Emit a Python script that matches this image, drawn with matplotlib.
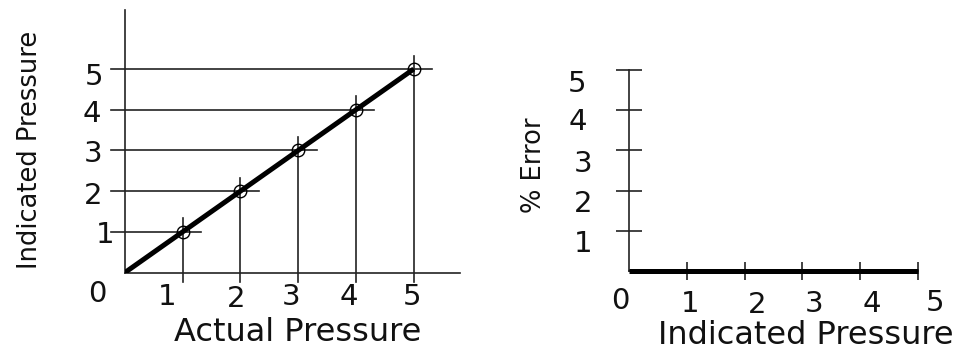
import matplotlib
matplotlib.use("Agg")
import matplotlib.pyplot as plt

# ---- data ----
actual_pressure = [1, 2, 3, 4, 5]
indicated_pressure = [1, 2, 3, 4, 5]
ideal_x = [0, 5]
ideal_y = [0, 5]
err_indicated = [0, 1, 2, 3, 4, 5]
pct_error = [0, 0, 0, 0, 0, 0]
left_tick_labels = ["1", "2", "3", "4", "5"]
right_tick_labels = ["1", "2", "3", "4", "5"]
origin_label = "0"

plt.rcParams['font.family'] = ['DejaVu Sans']

W, H = 978, 351
DPI = 100
fig = plt.figure(figsize=(W / DPI, H / DPI), dpi=DPI)

def px_rect(x0, y_bottom, x1, y_top):
    return [x0 / W, (H - y_bottom) / H, (x1 - x0) / W, (y_bottom - y_top) / H]

DIGIT_PT = 21
CAP = 0.729 * DIGIT_PT * DPI / 72.0

def put(ax, x, y, s, dx, dy):
    # dx, dy: pixel offsets of the visual centre (dy positive = down)
    ax.annotate(s, xy=(x, y), xytext=(dx, -dy - CAP / 2), textcoords='offset pixels',
                ha='center', va='baseline', fontsize=DIGIT_PT, color='#111111',
                annotation_clip=False)

# ---------------- left panel ----------------
ax1 = fig.add_axes(px_rect(125, 272.5, 460, 10))
ax1.set_xlim(0, 335 / 57.75)
ax1.set_ylim(0, 262.5 / 40.7)
for s in ['top', 'right']:
    ax1.spines[s].set_visible(False)
for s in ['left', 'bottom']:
    ax1.spines[s].set_linewidth(1.2)
    ax1.spines[s].set_color('#222222')
ax1.set_xticks([])
ax1.set_yticks([])

for xv, yv in zip(actual_pressure, indicated_pressure):
    ax1.plot([-0.25, xv + 0.32], [yv, yv], color='#222222', lw=1.2, clip_on=False, zorder=2)
    ax1.plot([xv, xv], [-0.23, yv + 0.33], color='#222222', lw=1.2, clip_on=False, zorder=2)

ax1.plot(ideal_x, ideal_y, color='black', lw=3.6, solid_capstyle='butt', zorder=3)
ax1.plot(actual_pressure, indicated_pressure, linestyle='none', marker='o', markersize=9,
         markerfacecolor='none', markeredgecolor='black', markeredgewidth=1.0, zorder=4,
         clip_on=False)

lx_off = [(-15.7, 21.5), (-4, 24), (-7, 21.5), (-7, 21.5), (-2, 21.5)]
for t, lab, (dx, dy) in zip(actual_pressure, left_tick_labels, lx_off):
    put(ax1, t, 0, lab, dx, dy)
ly_off = [(-20, 0.7), (-32, 2), (-31.5, 1), (-33, 2), (-31, 5)]
for t, lab, (dx, dy) in zip(indicated_pressure, left_tick_labels, ly_off):
    put(ax1, 0, t, lab, dx, dy)
put(ax1, 0, 0, origin_label, -28, 19)

ax1.set_xlabel("Actual Pressure", fontsize=23, color='#111111')
ax1.xaxis.set_label_coords(298 / W, 1 - 341 / H, transform=fig.transFigure)
ax1.xaxis.label.set_va('baseline')
ax1.set_ylabel("Indicated Pressure", fontsize=18.5, color='#111111')
ax1.yaxis.set_label_coords(30 / W, 1 - 150 / H, transform=fig.transFigure)
ax1.yaxis.label.set_va('center')

# ---------------- right panel ----------------
ax2 = fig.add_axes(px_rect(629.3, 271, 917.7, 70))
ax2.set_xlim(0, 5)
ax2.set_ylim(0, 5)
for s in ['top', 'right']:
    ax2.spines[s].set_visible(False)
for s in ['left', 'bottom']:
    ax2.spines[s].set_linewidth(1.2)
    ax2.spines[s].set_color('#222222')
ax2.set_xticks(err_indicated[1:])
ax2.set_yticks(err_indicated[1:])
ax2.tick_params(axis='x', direction='inout', length=13.5, width=1.2, color='#222222',
                labelbottom=False)
ax2.tick_params(axis='y', direction='inout', length=19, width=1.2, color='#222222',
                labelleft=False)
for tl in ax2.xaxis.get_ticklines() + ax2.yaxis.get_ticklines():
    tl.set_clip_on(False)

ax2.plot(err_indicated, pct_error, color='black', lw=3.6, solid_capstyle='butt',
         clip_on=False, zorder=3)

rx_off = [(3, 30), (12.3, 31), (11.6, 30), (12, 30), (17.3, 29)]
for t, lab, (dx, dy) in zip(err_indicated[1:], right_tick_labels, rx_off):
    put(ax2, t, 0, lab, dx, dy)
put(ax2, 0, 0, origin_label, -9, 27)
ry_off = [(-46, 11), (-46, 11), (-46, 11.3), (-51, 9.3), (-52, 11)]
for t, lab, (dx, dy) in zip(err_indicated[1:], right_tick_labels, ry_off):
    put(ax2, 0, t, lab, dx, dy)

ax2.set_xlabel("Indicated Pressure", fontsize=23, color='#111111')
ax2.xaxis.set_label_coords(806 / W, 1 - 343.5 / H, transform=fig.transFigure)
ax2.xaxis.label.set_va('baseline')
ax2.set_ylabel("% Error", fontsize=18.5, color='#111111')
ax2.yaxis.set_label_coords(534 / W, 1 - 165 / H, transform=fig.transFigure)
ax2.yaxis.label.set_va('center')

fig.savefig("out.png", dpi=DPI)
